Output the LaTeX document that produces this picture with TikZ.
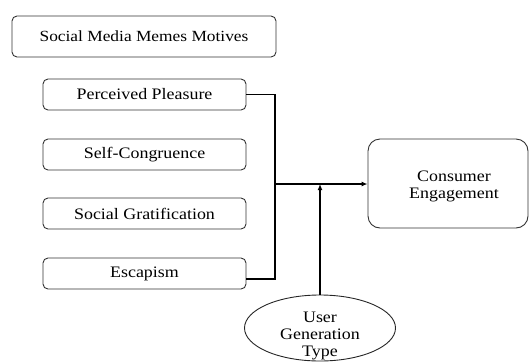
\documentclass[tikz,border=0pt]{standalone}
\usepackage{fontspec}
\setmainfont{Liberation Serif}[FakeStretch=1.12]
\usetikzlibrary{arrows.meta,shapes.geometric}
\begin{document}
\begin{tikzpicture}[x=1pt,y=-1pt,
  box/.style={draw=black!80,line width=0.9pt,rounded corners=5pt,minimum width=203pt,minimum height=31pt,inner sep=0pt,font=\fontsize{16}{17}\selectfont},
  conn/.style={line width=1.6pt},
  arr/.style={line width=1.6pt,-{Latex[length=6pt,width=5pt]}}]
\useasboundingbox (0,0) rectangle (529,362);
\node[box,minimum width=264pt,minimum height=41pt,font=\fontsize{15.5}{17}\selectfont] (title) at (144,36.5) {Social Media Memes Motives};
\node[box] (pp) at (144.5,94.5) {Perceived Pleasure};
\node[box] (sc) at (144.5,154.5) {Self-Congruence};
\node[box] (sg) at (144.5,213.5) {Social Gratification};
\node[box] (es) at (144.5,273.5) {Escapism};
\node[draw=black!80,line width=0.9pt,rounded corners=12pt,minimum width=160pt,minimum height=89pt,inner sep=0pt,
  label={[align=center,font=\fontsize{16}{17}\selectfont,xshift=6pt,yshift=-3pt]center:Consumer\\Engagement}] (ce) at (448,183.5) {};
\node[draw=black!85,line width=0.9pt,ellipse,minimum width=151pt,minimum height=66pt,inner sep=0pt,
  label={[align=center,font=\fontsize{16}{17}\selectfont,yshift=-8pt]center:User\\Generation\\Type}] (ug) at (320,328) {};
\coordinate (j) at (275,184);
\coordinate (m) at (320,184);
\draw[conn] (pp.east) -- (pp.east -| j) -- (j |- 0,279) -- (es.east |- 0,279);
\draw[arr] (j) -- (ce.west |- j);
\draw[arr] (ug.north) -- (m);
\end{tikzpicture}
\end{document}
